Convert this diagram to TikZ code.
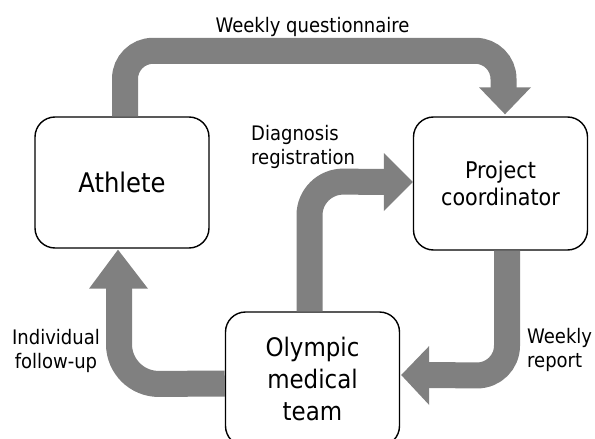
\documentclass[tikz,border=0pt]{standalone}
\usepackage{fontspec}
\setmainfont{DejaVu Sans Condensed}
\usetikzlibrary{calc}
\definecolor{arrowgray}{RGB}{128,128,128}
\newcommand\athtxt{\fontsize{27}{32}\selectfont}
\newcommand\pctxt{\fontsize{23}{27}\selectfont}
\newcommand\omttxt{\fontsize{25.5}{32}\selectfont}
\newcommand\smalltxt{\fontsize{20}{24}\selectfont}
\begin{document}
\begin{tikzpicture}[x=1pt,y=-1pt,
  box/.style={draw=black,line width=1.4pt,rounded corners=20pt,fill=white,
    align=center,inner sep=0pt,minimum width=174pt},
  shaft/.style={draw=arrowgray,line width=26pt,rounded corners=#1},
  shaft/.default=30pt,
  head/.style={fill=arrowgray},
  lbl/.style={font=\smalltxt,inner sep=0pt}]
\useasboundingbox (0,0) rectangle (595,439);
% boxes
\node[box,font=\athtxt,minimum height=131pt] (ath) at (122,182.5) {Athlete};
\node[box,font=\pctxt,minimum height=133pt] (pc) at (500.5,183.5) {Project\\coordinator};
\node[box,font=\omttxt,minimum height=134pt] (omt) at (312.5,379) {Olympic\\medical\\team};
% weekly questionnaire: athlete -> coordinator
\draw[shaft=28pt] ($(ath.north)+(3,0)$) -- ($(ath.north)+(3,-65.5)$)
  -- ($(pc.north)+(3,-65.5)$) -- ($(pc.north)+(3,-27)$);
\fill[head] ($(pc.north)+(-21.5,-29)$) -- ($(pc.north)+(30.5,-29)$)
  -- ($(pc.north)+(4.5,-2)$) -- cycle;
% diagnosis registration: medical team -> coordinator
\draw[shaft=34pt] ($(omt.north)+(-3,0)$) -- ($(omt.north)+(-3,-130)$)
  -- ($(pc.west)+(-27,-1.5)$);
\fill[head] ($(pc.west)+(-29,-30.5)$) -- ($(pc.west)+(-29,27.5)$)
  -- ($(pc.west)+(0,-1.5)$) -- cycle;
% individual follow-up: medical team -> athlete
\draw[shaft=40pt] ($(omt.west)+(0,4.5)$) -- ($(ath.south)+(-3,135.5)$)
  -- ($(ath.south)+(-3,38)$);
\fill[head] ($(ath.south)+(-33,40)$) -- ($(ath.south)+(26,40)$)
  -- ($(ath.south)+(-4,1)$) -- cycle;
% weekly report: coordinator -> medical team
\draw[shaft=30pt] ($(pc.south)+(6.5,0)$) -- ($(pc.south)+(6.5,125)$)
  -- ($(omt.east)+(27,-4)$);
\fill[head] ($(omt.east)+(29,-33)$) -- ($(omt.east)+(29,26)$)
  -- ($(omt.east)+(1,-4)$) -- cycle;
% labels
\node[lbl,anchor=base] (lq) at (312.5,32) {Weekly questionnaire};
\node[lbl,anchor=base west,align=left] (ld) at (251,164) {Diagnosis\\registration};
\node[lbl,anchor=base,align=center] (lf) at (56,368) {Individual\\follow-up};
\node[lbl,anchor=base west,align=left] (lr) at (527,367) {Weekly\\report};
\end{tikzpicture}
\end{document}
